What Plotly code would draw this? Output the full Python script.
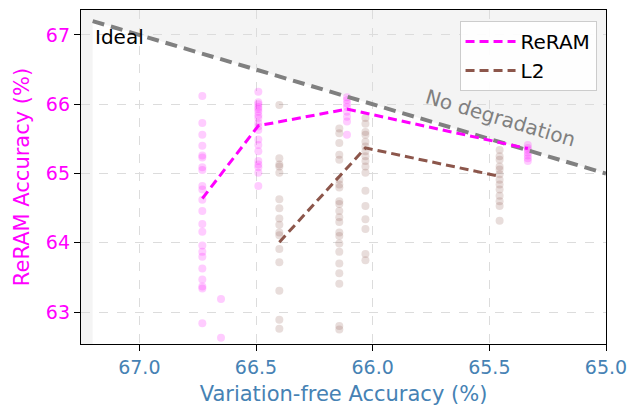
import plotly.graph_objects as go

# Per-seed accuracies (variation-free x, ReRAM y) for each configuration
reram_x = [66.73] * 22 + [66.65] * 2 + [66.49] * 19 + [66.11] * 8 + [65.335] * 7
reram_y = [66.12, 65.73, 65.56, 65.40, 65.26, 65.23, 65.09, 65.05, 64.82, 64.77, 64.62,
           64.46, 64.27, 64.16, 63.96, 63.87, 63.80, 63.63, 63.47, 63.37, 63.34, 62.84,
           63.19, 62.63,
           66.18, 66.03, 66.00, 65.96, 65.93, 65.89, 65.84, 65.80, 65.73, 65.68, 65.63,
           65.49, 65.41, 65.32, 65.18, 65.13, 65.09, 65.01, 64.82,
           66.10, 66.06, 66.01, 65.96, 65.89, 65.82, 65.75, 65.56,
           65.41, 65.37, 65.34, 65.30, 65.26, 65.22, 65.18]

l2_x = [66.40] * 16 + [66.143] * 22 + [66.031] * 17 + [65.456] * 13
l2_y = [65.99, 65.22, 65.13, 65.10, 65.01, 64.63, 64.50, 64.35, 64.26, 64.15, 64.11,
        63.91, 63.72, 63.31, 62.89, 62.76,
        65.65, 65.58, 65.44, 65.27, 65.20, 64.91, 64.84, 64.80, 64.60, 64.56, 64.46,
        64.37, 64.30, 64.15, 64.10, 63.99, 63.87, 63.70, 63.56, 63.41, 62.80, 62.75,
        65.80, 65.72, 65.60, 65.56, 65.46, 65.39, 65.32, 65.25, 65.18, 65.10, 65.01,
        64.75, 64.53, 64.34, 64.20, 63.84, 63.75,
        65.34, 65.25, 65.20, 65.10, 65.06, 64.99, 64.91, 64.84, 64.77, 64.68, 64.60,
        64.53, 64.32]

# Mean accuracy per configuration
reram_mean_x = [66.73, 66.49, 66.11, 65.335]
reram_mean_y = [64.64, 65.69, 65.93, 65.36]
l2_mean_x = [66.40, 66.031, 65.456]
l2_mean_y = [64.01, 65.37, 64.96]

x_range = [67.25, 65.0]
y_range = [62.54, 67.36]
ideal_max = 67.2
x_ticks = [67.0, 66.5, 66.0, 65.5, 65.0]
y_ticks = [63, 64, 65, 66, 67]

MAGENTA = "#ff00ff"
BROWN = "#8c564b"
AXIS_BLUE = "#4682b4"
FONT = "DejaVu Sans"
TICK_SIZE = 19
LABEL_SIZE = 21
TEXT_SIZE = 20

fig = go.Figure()

# Unreachable region: beyond the ideal accuracy, or above the no-degradation line
x_lo = x_range[1]
shade_path = (f"M {x_range[0]},{y_range[0]} L {ideal_max},{y_range[0]} "
              f"L {ideal_max},{ideal_max} L {x_lo},{x_lo} L {x_lo},{y_range[1]} "
              f"L {x_range[0]},{y_range[1]} Z")
fig.add_shape(type="path", path=shade_path, xref="x", yref="y",
              fillcolor="rgba(0,0,0,0.045)", line=dict(width=0), layer="below")

fig.add_trace(go.Scatter(x=reram_x, y=reram_y, mode="markers", showlegend=False,
                         marker=dict(color=MAGENTA, size=8, opacity=0.2, line=dict(width=0))))
fig.add_trace(go.Scatter(x=l2_x, y=l2_y, mode="markers", showlegend=False,
                         marker=dict(color=BROWN, size=8, opacity=0.2, line=dict(width=0))))

# No-degradation line (ReRAM accuracy equals variation-free accuracy)
fig.add_trace(go.Scatter(x=[ideal_max, x_lo], y=[ideal_max, x_lo], mode="lines",
                         showlegend=False,
                         line=dict(color="#808080", width=4, dash="12px,7px")))

fig.add_trace(go.Scatter(x=reram_mean_x, y=reram_mean_y, mode="lines", name="ReRAM",
                         line=dict(color=MAGENTA, width=3, dash="9px,5px")))
fig.add_trace(go.Scatter(x=l2_mean_x, y=l2_mean_y, mode="lines", name="L2",
                         line=dict(color=BROWN, width=3, dash="9px,5px")))

fig.add_annotation(x=67.197, y=66.97, text="Ideal", showarrow=False, xanchor="left",
                   yanchor="middle", font=dict(family=FONT, size=TEXT_SIZE, color="black"))
fig.add_annotation(x=65.453, y=65.80, text="No degradation", showarrow=False,
                   textangle=16.5, font=dict(family=FONT, size=TEXT_SIZE, color="#808080"))

grid = dict(showgrid=True, gridcolor="#dcdcdc", griddash="dash", gridwidth=1,
            showline=True, linecolor="black", linewidth=1.3, mirror=True,
            ticks="outside", ticklen=6, tickwidth=1.3, tickcolor="black", zeroline=False)

fig.update_xaxes(range=x_range, tickvals=x_ticks, ticktext=[f"{v:.1f}" for v in x_ticks],
                 title=dict(text="Variation-free Accuracy (%)",
                            font=dict(family=FONT, size=LABEL_SIZE, color=AXIS_BLUE), standoff=9),
                 tickfont=dict(family=FONT, size=TICK_SIZE, color=AXIS_BLUE), **grid)
fig.update_yaxes(range=y_range, tickvals=y_ticks, ticktext=[str(v) for v in y_ticks],
                 title=dict(text="ReRAM Accuracy (%)",
                            font=dict(family=FONT, size=LABEL_SIZE, color=MAGENTA), standoff=10),
                 tickfont=dict(family=FONT, size=TICK_SIZE, color=MAGENTA), **grid)

fig.update_layout(
    width=636, height=411,
    margin=dict(l=81, r=24, t=9, b=65),
    plot_bgcolor="white", paper_bgcolor="white",
    font=dict(family=FONT, size=TEXT_SIZE),
    legend=dict(x=0.982, y=0.967, xanchor="right", yanchor="top",
                bgcolor="rgba(255,255,255,0.9)", bordercolor="#cccccc", borderwidth=1,
                font=dict(family=FONT, size=TEXT_SIZE, color="black"), itemwidth=50),
)

fig.write_html("out.html")
